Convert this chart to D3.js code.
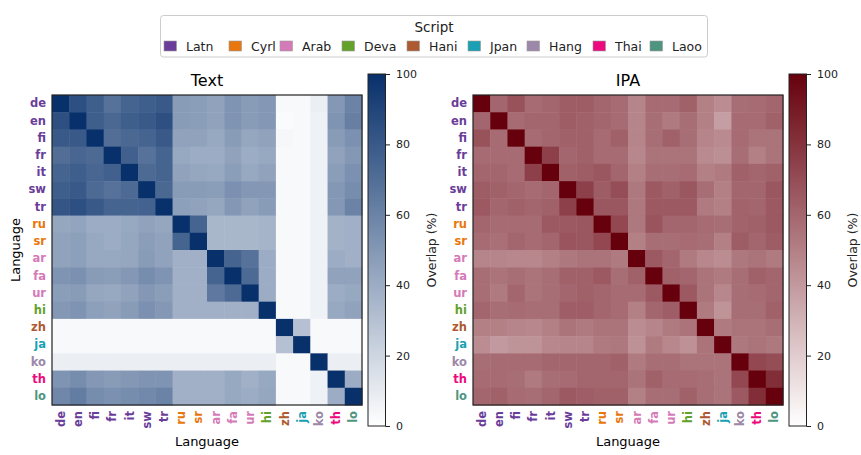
<!DOCTYPE html>
<html>
<head>
<meta charset="utf-8">
<script src="https://cdn.jsdelivr.net/npm/d3@7"></script>
<style>
  html, body { margin: 0; padding: 0; background: #fff; }
  svg text { font-family: "DejaVu Sans", sans-serif; }
</style>
</head>
<body>
<svg id="chart" width="861" height="455"></svg>
<script>
const languages = ["de","en","fi","fr","it","sw","tr","ru","sr","ar","fa","ur","hi","zh","ja","ko","th","lo"];
const languageScripts = ["Latn","Latn","Latn","Latn","Latn","Latn","Latn","Cyrl","Cyrl","Arab","Arab","Arab","Deva","Hani","Jpan","Hang","Thai","Laoo"];
const scriptNames = ["Latn","Cyrl","Arab","Deva","Hani","Jpan","Hang","Thai","Laoo"];
const scriptColors = ["#6a3d9a","#e8770e","#d47ab8","#63a12a","#ad5a30","#1aa0b2","#9c88a8","#ec0a7e","#4e9580"];
const colorbarTicks = [0, 20, 40, 60, 80, 100];

// Text overlap (%) rows = language, cols = language
const textOverlap = [
  [100,85,78,68,75,78,80, 48,47,45,52,48,50, 3,3,8, 50,60],
  [85,100,78,73,78,80,85, 48,47,45,52,48,50, 2,3,7, 52,62],
  [80,80,100,70,73,75,80, 45,45,42,48,43,45, 4,3,7, 48,53],
  [70,74,72,100,77,68,75, 42,40,40,45,40,42, 3,3,7, 45,50],
  [75,78,74,77,100,72,75, 45,43,42,47,42,45, 3,3,7, 47,53],
  [78,80,72,68,72,100,73, 48,48,47,53,50,50, 3,3,7, 50,55],
  [82,85,80,75,75,76,100, 46,45,43,50,45,48, 3,3,7, 50,60],
  [43,44,40,40,42,45,43, 100,75,35,35,35,36, 3,3,7, 37,38],
  [45,46,42,40,43,47,45, 75,100,35,35,35,36, 3,3,7, 37,38],
  [45,46,42,42,43,48,45, 38,38,100,75,68,40, 3,3,7, 40,38],
  [52,53,48,47,50,55,52, 38,38,75,100,72,40, 3,3,7, 45,45],
  [47,48,43,42,45,50,47, 38,38,65,72,100,40, 3,3,7, 40,42],
  [50,52,46,45,48,53,50, 38,38,38,38,38,100, 3,3,7, 42,45],
  [3,3,3,3,3,3,3, 3,3,3,3,3,3, 100,30,3, 3,3],
  [3,3,3,3,3,3,3, 3,3,3,3,3,3, 30,100,3, 3,3],
  [8,8,8,8,8,8,8, 8,8,8,8,8,8, 3,3,100, 8,8],
  [52,55,50,48,50,52,52, 38,38,38,42,38,42, 3,3,7, 100,40],
  [58,63,55,53,55,57,60, 38,38,38,42,40,43, 3,3,7, 40,100]
];

// IPA overlap (%)
const ipaOverlap = [
  [100,60,68,58,60,64,64, 60,58, 48,58,58, 62, 50,45,57, 58,60],
  [60,100,58,60,60,64,62, 60,58, 48,57,52, 57, 50,38,58, 58,62],
  [68,58,100,58,60,62,62, 58,62, 48,57,62, 57, 48,46,58, 55,55],
  [58,58,58,100,75,60,62, 58,58, 47,55,55, 55, 46,44,57, 50,55],
  [60,60,58,75,100,62,64, 66,60, 50,57,57, 58, 50,52,62, 60,62],
  [64,62,60,58,60,100,75, 64,70, 53,65,62, 66, 57,50,60, 60,66],
  [65,60,62,60,62,75,100, 66,66, 53,65,65, 65, 52,50,61, 60,65],
  [60,58,58,58,65,65,66, 100,72, 53,67,60, 60, 58,57,61, 62,65],
  [58,56,60,58,60,67,66, 72,100, 50,57,57, 58, 57,50,64, 60,64],
  [48,48,47,47,50,53,55, 55,52, 100,65,60, 52, 47,45,53, 55,52],
  [57,55,57,55,57,62,62, 65,57, 62,100,62, 60, 55,52,57, 62,60],
  [57,52,60,55,57,60,62, 60,58, 58,65,100, 65, 55,47,57, 58,60],
  [60,57,58,57,57,63,63, 60,58, 50,60,63, 100, 52,42,57, 57,62],
  [50,50,48,47,50,55,52, 55,55, 45,48,52, 55, 100,52,55, 55,57],
  [45,40,42,42,47,48,48, 52,53, 43,52,47, 43, 55,100,53, 55,53],
  [57,58,58,58,60,60,60, 60,62, 52,57,57, 55, 55,55,100, 72,70],
  [58,58,57,52,57,58,60, 60,60, 55,62,58, 58, 57,55,72, 100,82],
  [60,62,58,57,60,65,63, 62,62, 50,57,57, 62, 57,55,65, 82,100]
];

const svg = d3.select("#chart");
const scriptColor = d3.scaleOrdinal().domain(scriptNames).range(scriptColors);
const labelColor = (lang) => scriptColor(languageScripts[languages.indexOf(lang)]);

const panels = [
  { title: "Text", data: textOverlap, left: 52, cbLeft: 368, colors: ["#ffffff", "#08306b"], id: "gText" },
  { title: "IPA", data: ipaOverlap, left: 473, cbLeft: 789, colors: ["#ffffff", "#67000d"], id: "gIpa" }
];
const plotTop = 95, plotSize = 310;
const cbTop = 74, cbBottom = 426, cbWidth = 17.5;

const defs = svg.append("defs");

panels.forEach(p => {
  const x = d3.scaleBand().domain(languages).range([p.left, p.left + plotSize]);
  const y = d3.scaleBand().domain(languages).range([plotTop, plotTop + plotSize]);
  const color = d3.scaleLinear().domain([0, 100]).range(p.colors).interpolate(d3.interpolateRgb);
  const g = svg.append("g");

  const cells = [];
  p.data.forEach((row, i) => row.forEach((v, j) => cells.push({ r: languages[i], c: languages[j], v })));
  g.selectAll("rect.cell").data(cells).join("rect")
    .attr("class", "cell")
    .attr("x", d => x(d.c))
    .attr("y", d => y(d.r))
    .attr("width", x.bandwidth() + 0.5)
    .attr("height", y.bandwidth() + 0.5)
    .attr("fill", d => color(d.v));

  g.append("rect")
    .attr("x", p.left).attr("y", plotTop).attr("width", plotSize).attr("height", plotSize)
    .attr("fill", "none").attr("stroke", "#222").attr("stroke-width", 1.2);

  // title
  g.append("text")
    .attr("x", p.left + plotSize / 2).attr("y", 86)
    .attr("text-anchor", "middle").attr("font-size", 16).attr("fill", "#000")
    .text(p.title);

  // y tick labels
  const yAxis = g.append("g").attr("transform", `translate(${p.left},0)`)
    .call(d3.axisLeft(y).tickSize(0).tickPadding(6));
  yAxis.select(".domain").remove();
  yAxis.selectAll("text")
    .attr("font-size", 11.5).attr("font-weight", "bold")
    .attr("font-family", "DejaVu Sans, sans-serif")
    .attr("fill", d => labelColor(d));

  // x tick labels
  const xAxis = g.append("g").attr("transform", `translate(0,${plotTop + plotSize})`)
    .call(d3.axisBottom(x).tickSize(0).tickPadding(0));
  xAxis.select(".domain").remove();
  xAxis.selectAll("text")
    .attr("font-size", 11.5).attr("font-weight", "bold")
    .attr("font-family", "DejaVu Sans, sans-serif")
    .attr("fill", d => labelColor(d))
    .attr("transform", "rotate(-90)")
    .attr("text-anchor", "end")
    .attr("x", -6).attr("y", 0).attr("dy", "0.35em");

  // axis labels
  g.append("text")
    .attr("x", p.left + plotSize / 2).attr("y", 446)
    .attr("text-anchor", "middle").attr("font-size", 13).attr("fill", "#000")
    .text("Language");
  if (p.title === "Text") {
    g.append("text")
      .attr("transform", `translate(20,${plotTop + plotSize / 2}) rotate(-90)`)
      .attr("text-anchor", "middle").attr("font-size", 13).attr("fill", "#000")
      .text("Language");
  }

  // colorbar
  const cbScale = d3.scaleLinear().domain([0, 100]).range([cbBottom, cbTop]);
  const grad = defs.append("linearGradient").attr("id", p.id)
    .attr("x1", "0%").attr("y1", "100%").attr("x2", "0%").attr("y2", "0%");
  d3.range(0, 101, 10).forEach(v => {
    grad.append("stop").attr("offset", v + "%").attr("stop-color", color(v));
  });
  g.append("rect")
    .attr("x", p.cbLeft).attr("y", cbTop).attr("width", cbWidth).attr("height", cbBottom - cbTop)
    .attr("fill", `url(#${p.id})`).attr("stroke", "#222").attr("stroke-width", 1);
  const cbAxis = g.append("g").attr("transform", `translate(${p.cbLeft + cbWidth},0)`)
    .call(d3.axisRight(cbScale).tickValues(colorbarTicks).tickSize(4.5).tickPadding(6));
  cbAxis.select(".domain").remove();
  cbAxis.selectAll("line").attr("stroke", "#222");
  cbAxis.selectAll("text").attr("font-size", 11).attr("fill", "#222")
    .attr("font-family", "DejaVu Sans, sans-serif");
  g.append("text")
    .attr("transform", `translate(${p.cbLeft + cbWidth + 50},${(cbTop + cbBottom) / 2}) rotate(-90)`)
    .attr("text-anchor", "middle").attr("font-size", 12.5).attr("fill", "#222")
    .text("Overlap (%)");
});

// Legend
const legend = svg.append("g");
legend.append("rect")
  .attr("x", 160.5).attr("y", 15.5).attr("width", 547).attr("height", 41.5)
  .attr("rx", 3).attr("fill", "#fff").attr("stroke", "#cccccc").attr("stroke-width", 1);
legend.append("text")
  .attr("x", 434).attr("y", 32).attr("text-anchor", "middle")
  .attr("font-size", 13.5).attr("fill", "#222").text("Script");
const legendX = [164, 229, 280, 342, 407, 468, 527, 593, 650];
scriptNames.forEach((s, i) => {
  const gx = legendX[i];
  legend.append("rect")
    .attr("x", gx).attr("y", 41).attr("width", 12.5).attr("height", 10)
    .attr("fill", scriptColor(s)).attr("stroke", "#999").attr("stroke-width", 0.6);
  legend.append("text")
    .attr("x", gx + 22).attr("y", 50.5)
    .attr("font-size", 12.5).attr("fill", "#222").text(s);
});
</script>
</body>
</html>
